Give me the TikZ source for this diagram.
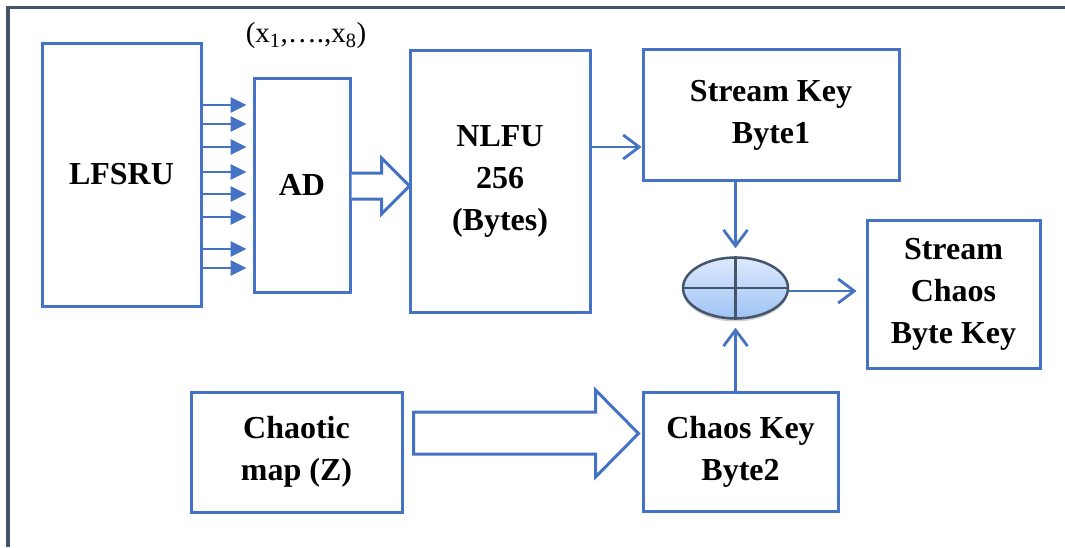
\documentclass[tikz,border=0pt]{standalone}
\usepackage{fontspec}
\setmainfont{Liberation Serif}
\usetikzlibrary{positioning, calc, arrows.meta, shapes.geometric, shadows}
\definecolor{boxblue}{HTML}{4472C4}
\definecolor{framegray}{HTML}{44546A}
\definecolor{xortop}{HTML}{DCE9FC}
\definecolor{xorbot}{HTML}{9FC3F5}

\begin{document}
\begin{tikzpicture}[
    x=1pt, y=-1pt,
    % Styles
    box/.style={draw=boxblue, line width=3pt, inner sep=0pt,
        font=\fontsize{32}{42}\selectfont\bfseries, align=center},
    lbl/.style={font=\fontsize{29}{32}\selectfont},
    arr/.style={-{Straight Barb[length=16pt, width=24pt]}, draw=boxblue,
        line width=2.8pt},
    bitarr/.style={-{Triangle[length=16pt, width=15pt]}, draw=boxblue,
        line width=2.8pt},
    fatarr/.style={draw=boxblue, line width=3pt, fill=white,
        line join=miter},
    xorop/.style={ellipse, draw=framegray, line width=2.5pt,
        top color=xortop, bottom color=xorbot,
        minimum width=105pt, minimum height=61pt,
        drop shadow={opacity=0.35, shadow xshift=0pt, shadow yshift=-3pt}},
    frame/.style={draw=framegray, line width=3.5pt},
]
\useasboundingbox (0,0) rectangle (1065,547);

% outer frame (cut by the page)
\draw[frame] (8,547) -- (8,7.5) -- (1065,7.5);

% ===== Upper row =====
\node[box, minimum width=159pt, minimum height=263pt] (lfsru) at (121.5,174.5) {LFSRU};
\node[box, minimum width=96pt, minimum height=214pt] (ad) at (302,185) {AD};
\node[lbl] (xlbl) at (306,36) {(x\textsubscript{1},\ldots.,x\textsubscript{8})};

% eight bit lines
\foreach \py in {105,124,147,172,194,217,249,268}
    \draw[bitarr, shorten >=6pt] (lfsru.east |- 0,\py) -- (ad.west |- 0,\py);

\node[box, minimum width=180pt, minimum height=262pt] (nlfu) at (500,181)
    {NLFU\\256\\(Bytes)};
\draw[fatarr] (ad.east) ++(0,-12) -- ++(30,0) -- ++(0,-15) -- ++(28,28)
    -- ++(-28,28) -- ++(0,-15) -- ++(-30,0);

\node[box, minimum width=256pt, minimum height=131pt] (skb1) at (771,115)
    {Stream Key\\Byte1};
\draw[arr] (nlfu.east |- 0,147) -- (skb1.west |- 0,147);

% XOR
\node[xorop] (xor) at (735.5,288) {};
\draw[framegray, line width=2.5pt] (xor.north) -- (xor.south) (xor.west) -- (xor.east);
\draw[arr, shorten >=8pt] (xor.north |- skb1.south) -- (xor.north);

\node[box, minimum width=173pt, minimum height=148pt] (scbk) at (953.5,294)
    {Stream\\Chaos\\Byte Key};
\draw[arr, shorten >=9pt] ([yshift=-3pt]xor.east) -- ([yshift=-3pt]xor.east -| scbk.west);

% ===== Lower row =====
\node[box, minimum width=211pt, minimum height=120pt] (chmap) at (296.5,452)
    {Chaotic\\map (Z)};
\node[box, minimum width=195pt, minimum height=119pt] (ckb2) at (740.5,451.5)
    {Chaos Key\\Byte2};
\draw[fatarr] (chmap.east) ++(10,-40) -- ++(182,0) -- ++(0,-22) -- ++(43,43.5)
    -- ++(-43,43.5) -- ++(0,-23) -- ++(-182,0) -- cycle;
\draw[arr, shorten >=8pt] (xor.south |- ckb2.north) -- (xor.south);

\end{tikzpicture}
\end{document}
